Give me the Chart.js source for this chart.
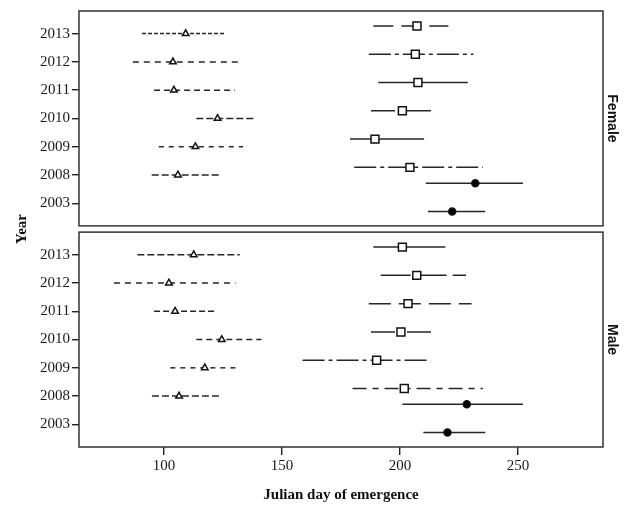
<!DOCTYPE html>
<html>
<head>
<meta charset="utf-8">
<script src="https://cdn.jsdelivr.net/npm/chart.js@4.4.1/dist/chart.umd.min.js"></script>
<style>
  html, body { margin: 0; padding: 0; background: #fff; }
  #wrap { width: 624px; height: 507px; }
</style>
</head>
<body>
<div id="wrap"><canvas id="chart" width="624" height="507"></canvas></div>
<script>
// rows of each panel, top to bottom
const years = ['2013', '2012', '2011', '2010', '2009', '2008', '2003'];
const panels = ['Female', 'Male'];
const xTicks = [100, 150, 200, 250];

// triangles (first emergence group)
const femaleTriMean = [109.2, 103.8, 104.2, 122.7, 113.3, 105.9, null];
const femaleTriLow  = [90.7, 86.8, 95.8, 113.7, 97.8, 94.8, null];
const femaleTriHigh = [126.0, 132.1, 130.0, 138.2, 133.5, 124.4, null];
const maleTriMean = [112.6, 102.1, 104.7, 124.5, 117.3, 106.4, null];
const maleTriLow  = [88.7, 78.8, 95.8, 113.7, 102.7, 94.9, null];
const maleTriHigh = [132.1, 130.3, 121.9, 141.3, 131.1, 124.4, null];

// squares (second emergence group)
const femaleSqMean = [207.2, 206.5, 207.6, 201.0, 189.4, 204.2, null];
const femaleSqLow  = [188.7, 186.8, 190.8, 187.7, 178.8, 180.6, null];
const femaleSqHigh = [220.5, 231.1, 228.7, 214.1, 210.2, 235.1, null];
const maleSqMean = [201.0, 207.1, 203.4, 200.4, 190.1, 201.8, null];
const maleSqLow  = [188.7, 191.8, 186.8, 187.7, 158.7, 179.9, null];
const maleSqHigh = [219.2, 228.0, 230.3, 214.3, 213.0, 235.1, null];

// filled circles (2008 and 2003 only)
const femaleDotMean = [null, null, null, null, null, 231.9, 222.1];
const femaleDotLow  = [null, null, null, null, null, 210.9, 211.8];
const femaleDotHigh = [null, null, null, null, null, 252.1, 236.1];
const maleDotMean = [null, null, null, null, null, 228.3, 220.1];
const maleDotLow  = [null, null, null, null, null, 201.0, 209.9];
const maleDotHigh = [null, null, null, null, null, 252.1, 236.1];

// layout of the y axis: each panel is 7.6 units, gap of 0.22 between
const PANEL = 7.82;
function rowY(panel, i) { return panel * PANEL + 0.8 + i; }

const triDash = [[[4, 2], [6, 5], [6, 4], [7, 3], [5, 5], [7, 3]],
                 [[7, 3], [6, 5], [6, 3], [6, 4], [5, 5], [7, 3]]];
const sqDash = [[[20, 8], [22, 4, 4, 4], [], [24, 4, 4, 4], [], [22, 4, 4, 4]],
                [[], [30, 6], [22, 8], [24, 4, 4, 4], [22, 4, 4, 4], [14, 6, 6, 6]]];

const datasets = [];

function addGroup(panel, means, lows, highs, marker, dodge, dashes) {
    const pts = [];
    means.forEach((m, i) => {
        if (m === null) return;
        const y = rowY(panel, i) + dodge;
        datasets.push({
            data: [{ x: lows[i], y: y }, { x: highs[i], y: y }],
            showLine: true,
            borderColor: '#262626',
            borderWidth: 1.5,
            borderDash: dashes ? (dashes[i] || []) : [],
            pointRadius: 0,
            order: 2
        });
        pts.push({ x: m, y: y });
    });
    datasets.push(Object.assign({
        data: pts,
        borderColor: '#111',
        pointBorderWidth: 1.5,
        order: 1
    }, marker));
}

const triangle = { pointStyle: 'triangle', pointRadius: 3.8, pointBackgroundColor: '#fff' };
const square = { pointStyle: 'rect', pointRadius: 5.6, pointBackgroundColor: '#fff' };
const dot = { pointStyle: 'circle', pointRadius: 3.5, pointBackgroundColor: '#000' };

addGroup(0, femaleTriMean, femaleTriLow, femaleTriHigh, triangle, 0, triDash[0]);
addGroup(0, femaleSqMean, femaleSqLow, femaleSqHigh, square, -0.27, sqDash[0]);
addGroup(0, femaleDotMean, femaleDotLow, femaleDotHigh, dot, 0.29, null);
addGroup(1, maleTriMean, maleTriLow, maleTriHigh, triangle, 0, triDash[1]);
addGroup(1, maleSqMean, maleSqLow, maleSqHigh, square, -0.27, sqDash[1]);
addGroup(1, maleDotMean, maleDotLow, maleDotHigh, dot, 0.29, null);

const rowTicks = [];
panels.forEach((p, k) => years.forEach((yr, i) => rowTicks.push(rowY(k, i))));

// panel frames and the strip labels on the right
const panelPlugin = {
    id: 'panels',
    afterDraw(chart) {
        const { ctx, chartArea, scales } = chart;
        ctx.save();
        ctx.strokeStyle = '#333';
        ctx.lineWidth = 1.5;
        panels.forEach((name, k) => {
            const top = scales.y.getPixelForValue(k * PANEL);
            const bottom = scales.y.getPixelForValue(k * PANEL + 7.6);
            ctx.strokeRect(chartArea.left, top, chartArea.right - chartArea.left, bottom - top);
            ctx.save();
            ctx.translate(chartArea.right + 9, (top + bottom) / 2);
            ctx.rotate(Math.PI / 2);
            ctx.fillStyle = '#111';
            ctx.font = 'bold 14px "Liberation Sans", Arial, sans-serif';
            ctx.textAlign = 'center';
            ctx.textBaseline = 'middle';
            ctx.fillText(name, 0, 0);
            ctx.restore();
        });
        ctx.restore();
    }
};

new Chart(document.getElementById('chart'), {
    type: 'scatter',
    data: { datasets: datasets },
    options: {
        responsive: false,
        animation: false,
        devicePixelRatio: 1,
        layout: { padding: { top: 10, right: 21, left: 0, bottom: 0 } },
        plugins: { legend: { display: false }, tooltip: { enabled: false } },
        scales: {
            x: {
                type: 'linear',
                min: 64,
                max: 286,
                afterBuildTicks: (scale) => { scale.ticks = xTicks.map(v => ({ value: v })); },
                afterFit: (scale) => { scale.height = 60; },
                border: { display: false },
                grid: { drawOnChartArea: false, tickLength: 8, color: '#222', lineWidth: 1.4 },
                ticks: {
                    autoSkip: false, maxRotation: 0, padding: 2, color: '#1a1a1a',
                    font: { family: '"Liberation Serif", "Times New Roman", serif', size: 15 }
                },
                title: {
                    display: true,
                    text: 'Julian day of emergence',
                    color: '#111',
                    padding: { top: 0, bottom: 3 },
                    font: { family: '"Liberation Serif", "Times New Roman", serif', size: 15, weight: 'bold' }
                }
            },
            y: {
                type: 'linear',
                reverse: true,
                min: 0,
                max: PANEL + 7.6,
                afterBuildTicks: (scale) => { scale.ticks = rowTicks.map(v => ({ value: v })); },
                afterFit: (scale) => { scale.width = 79; },
                border: { display: false },
                grid: { drawOnChartArea: false, tickLength: 7, color: '#222', lineWidth: 1.4 },
                ticks: {
                    autoSkip: false, padding: 2, color: '#1a1a1a',
                    callback: (value, index) => years[index % years.length],
                    font: { family: '"Liberation Serif", "Times New Roman", serif', size: 15 }
                },
                title: {
                    display: true,
                    text: 'Year',
                    color: '#111',
                    padding: { top: 13, bottom: 0 },
                    font: { family: '"Liberation Serif", "Times New Roman", serif', size: 15, weight: 'bold' }
                }
            }
        }
    },
    plugins: [panelPlugin]
});
</script>
</body>
</html>
